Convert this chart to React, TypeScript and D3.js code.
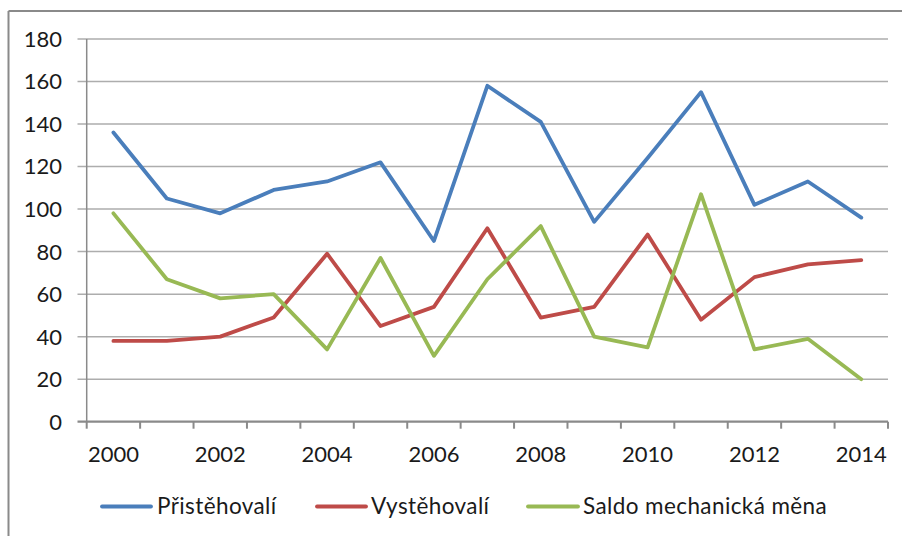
import React from "react";
import * as d3 from "d3";

const years = [2000, 2001, 2002, 2003, 2004, 2005, 2006, 2007, 2008, 2009, 2010, 2011, 2012, 2013, 2014];
const pristehovali = [136, 105, 98, 109, 113, 122, 85, 158, 141, 94, 124, 155, 102, 113, 96];
const vystehovali = [38, 38, 40, 49, 79, 45, 54, 91, 49, 54, 88, 48, 68, 74, 76];
const saldo = [98, 67, 58, 60, 34, 77, 31, 67, 92, 40, 35, 107, 34, 39, 20];
const yTicks = [0, 20, 40, 60, 80, 100, 120, 140, 160, 180];
const xLabels = [2000, 2002, 2004, 2006, 2008, 2010, 2012, 2014];
const seriesNames = ["Přistěhovalí", "Vystěhovalí", "Saldo mechanická měna"];
const colors = ["#4A7EBB", "#BE4B48", "#98B954"];

const W = 902;
const H = 536;
const left = 86.7;
const right = 888;
const top = 39;
const bottom = 421.7;
const FONT = "Lato, 'Open Sans', sans-serif";

export default function App() {
  const x = d3.scaleBand<number>().domain(years).range([left, right]).padding(0);
  const y = d3.scaleLinear().domain([0, 180]).range([bottom, top]);
  const cx = (yr: number) => (x(yr) as number) + x.bandwidth() / 2;
  const line = d3
    .line<number>()
    .x((_, i) => cx(years[i]))
    .y((v) => y(v));
  const data = [pristehovali, vystehovali, saldo];
  const boundaries = years.map((yr) => x(yr) as number).concat([right]);

  const legendItems = [
    { x1: 102, x2: 151, tx: 157 },
    { x1: 317, x2: 366, tx: 371 },
    { x1: 528, x2: 578, tx: 583 },
  ];

  return (
    <svg width={W} height={H} style={{ position: "absolute", left: 0, top: 0, background: "#fff" }} fontFamily={FONT}>
      <rect x={0} y={0} width={W} height={H} fill="#fff" />
      {/* frame */}
      <line x1={8.5} y1={11} x2={W} y2={11} stroke="#8a8a8a" strokeWidth={2} />
      <line x1={8.5} y1={11} x2={8.5} y2={H} stroke="#8a8a8a" strokeWidth={2} />
      {/* gridlines */}
      {yTicks.map((t) => (
        <line key={t} x1={77.5} x2={right} y1={y(t)} y2={y(t)} stroke={t === 0 ? "none" : "#adadad"} strokeWidth={1.5} />
      ))}
      {/* y axis */}
      <line x1={left} x2={left} y1={top} y2={bottom} stroke="#8a8a8a" strokeWidth={1.5} />
      {/* x axis */}
      <line x1={77.5} x2={right} y1={bottom} y2={bottom} stroke="#8a8a8a" strokeWidth={2.2} />
      {boundaries.map((b, i) => (
        <line key={i} x1={b} x2={b} y1={bottom} y2={bottom + 7} stroke="#8a8a8a" strokeWidth={2} />
      ))}
      {/* y labels */}
      {yTicks.map((t) => (
        <text key={t} x={62} y={y(t)} dy="0.36em" textAnchor="end" fontSize={22} fill="#1a1a1a">
          {t}
        </text>
      ))}
      {/* x labels */}
      {xLabels.map((yr) => (
        <text key={yr} x={cx(yr)} y={461.5} textAnchor="middle" fontSize={22} fill="#1a1a1a">
          {yr}
        </text>
      ))}
      {/* lines */}
      {data.map((d, i) => (
        <path key={i} d={line(d) || ""} fill="none" stroke={colors[i]} strokeWidth={3.8} strokeLinejoin="round" strokeLinecap="round" />
      ))}
      {/* legend */}
      {legendItems.map((it, i) => (
        <g key={i}>
          <line x1={it.x1} x2={it.x2} y1={506.5} y2={506.5} stroke={colors[i]} strokeWidth={3.8} strokeLinecap="round" />
          <text x={it.tx} y={513.5} fontSize={22.5} letterSpacing={0.4} fill="#1a1a1a">
            {seriesNames[i]}
          </text>
        </g>
      ))}
    </svg>
  );
}
